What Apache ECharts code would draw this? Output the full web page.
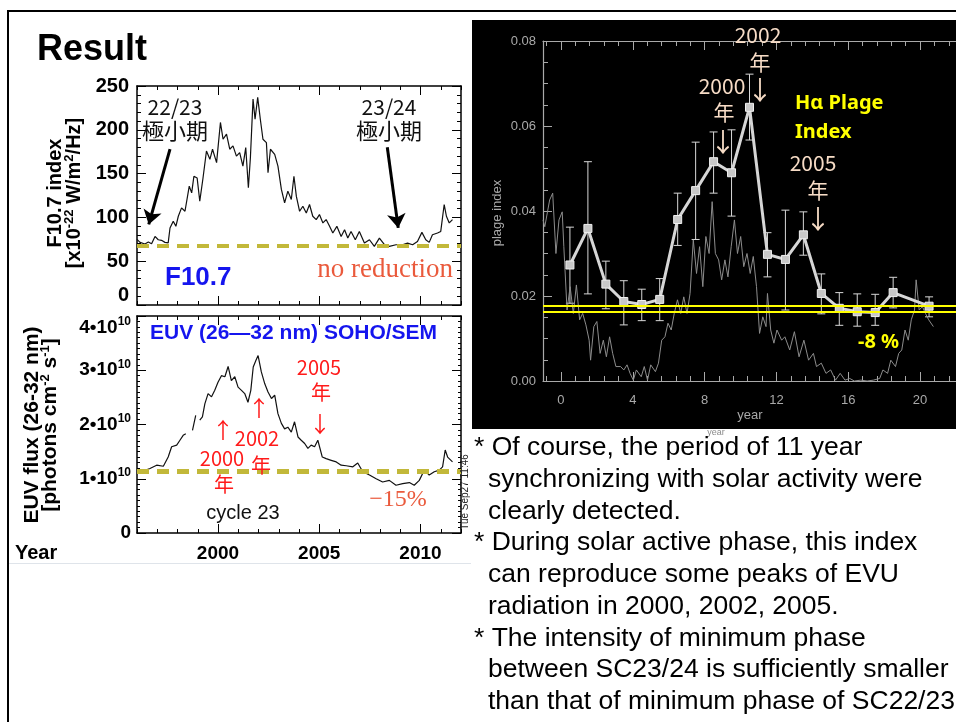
<!DOCTYPE html>
<html>
<head>
<meta charset="utf-8">
<script src="https://cdn.jsdelivr.net/npm/echarts@6/dist/echarts.min.js"></script>
<style>html,body{margin:0;padding:0;background:#fff}#main{width:956px;height:722px}</style>
</head>
<body>
<div id="main"></div>
<script>
(function () {
  'use strict';

  // F10.7 index (top-left panel)
  var f107Years = [1996.0, 1996.15, 1996.39, 1996.56, 1996.72, 1996.89, 1997.05, 1997.21, 1997.38, 1997.54, 1997.63, 1997.79, 1997.92,
    1998.04, 1998.2, 1998.37, 1998.58, 1998.7, 1998.81, 1998.97, 1999.1, 1999.26, 1999.43, 1999.6, 1999.73, 1999.93,
    2000.12, 2000.25, 2000.42, 2000.58, 2000.74, 2000.91, 2001.07, 2001.23, 2001.37, 2001.5, 2001.6, 2001.73, 2001.83, 2001.96,
    2002.09, 2002.22, 2002.39, 2002.47, 2002.59, 2002.8, 2002.96, 2003.13, 2003.29, 2003.45, 2003.62, 2003.75, 2003.87,
    2004.03, 2004.19, 2004.36, 2004.52, 2004.68, 2004.85, 2005.01, 2005.18, 2005.34, 2005.51, 2005.67, 2005.87,
    2006.08, 2006.25, 2006.41, 2006.57, 2006.78, 2006.98, 2007.23, 2007.48, 2007.72, 2007.97, 2008.22, 2008.46, 2008.79,
    2009.11, 2009.36, 2009.61, 2009.85, 2010.07, 2010.26, 2010.43, 2010.59, 2010.84, 2011.0, 2011.17, 2011.28, 2011.42, 2011.58];
  var f107Values = [75, 71.5, 69.6, 71.9, 70, 78.3, 74.5, 73.8, 71.5, 71, 87.9, 95.6, 89.8,
    101.3, 110.9, 107, 135.7, 128, 147, 145, 118.5, 145, 175.8, 166.3, 177.8, 162.5,
    208.4, 189.2, 195, 177.8, 181.6, 170, 174, 158.6, 179.7, 133.8, 168.2, 235, 212, 237,
    212, 189.2, 185.4, 151, 177.8, 172, 158.6, 131.9, 116.6, 130, 120.4, 147, 124,
    107, 112.7, 105, 114.7, 101.3, 97.5, 103.2, 93.7, 97.5, 89.8, 82.2, 89.8,
    78.3, 86, 76.4, 84, 74.5, 84, 70.7, 74.5, 66.9, 76.4, 68.8, 66.9, 68.8,
    68.8, 70.7, 68.8, 72.6, 82.9, 74.5, 71.5, 80.2, 82.2, 84, 114.7, 101.3, 93.7, 97.5];
  var f107Level = 68;

  // EUV 26-32 nm flux, units of 1e10 photons cm-2 s-1 (null = data gap)
  var euvYears = [1996.0, 1996.3, 1996.64, 1996.97, 1997.3, 1997.54, 1997.71, 1997.96, 1998.12, 1998.28, 1998.41, 1998.55,
    1998.74, 1998.9, 1999.0, 1999.1, 1999.23, 1999.35, 1999.51, 1999.68, 1999.84, 2000.0, 2000.17, 2000.34, 2000.5, 2000.66,
    2000.83, 2000.99, 2001.16, 2001.32, 2001.48, 2001.62, 2001.74, 2001.87, 2001.98, 2002.14, 2002.31, 2002.47, 2002.64,
    2002.8, 2002.96, 2003.13, 2003.29, 2003.45, 2003.62, 2003.78, 2003.95, 2004.11, 2004.28, 2004.44, 2004.6, 2004.77,
    2004.93, 2005.01, 2005.15, 2005.34, 2005.59, 2005.84, 2006.08, 2006.33, 2006.66, 2006.9, 2007.15, 2007.48, 2007.81,
    2008.13, 2008.46, 2008.79, 2009.12, 2009.45, 2009.69, 2009.94, 2010.19, 2010.43, 2010.68, 2010.93, 2011.09, 2011.22,
    2011.34, 2011.58];
  var euvFlux = [1.15, 1.14, 1.19, 1.25, 1.23, 1.40, 1.59, 1.62, 1.71, 1.80, 1.83, null,
    1.89, 2.17, null, 2.08, 2.14, 2.38, 2.57, 2.51, 2.63, 2.78, 2.90, 2.88, 3.07, 2.81,
    2.88, 2.69, 2.63, 2.57, 2.41, 2.63, 3.06, 3.18, 3.27, 2.97, 2.75, 2.60, 2.48,
    2.54, 2.20, 2.02, 1.92, 1.95, 1.86, 2.05, 1.77, 1.71, 1.65, 1.56, 1.62, 1.59,
    1.71, 1.74, 1.40, 1.37, 1.34, 1.31, 1.25, 1.24, 1.22, 1.29, 1.13, 1.07, 1.00,
    0.94, 0.97, 0.88, 0.91, 0.93, 0.88, 0.97, 1.16, 1.07, 1.13, 1.16, 1.22, 1.53,
    1.40, 1.31];
  var euvLevel = 1.13;

  // H-alpha plage index (right panel)
  var plageYears = [0.5, 1.5, 2.5, 3.5, 4.5, 5.5, 6.5, 7.5, 8.5, 9.5, 10.5, 11.5, 12.5, 13.5, 14.5, 15.5, 16.5, 17.5, 18.5, 20.5];
  var plageIndex = [0.0273, 0.0359, 0.0228, 0.0187, 0.0180, 0.0192, 0.0380, 0.0448, 0.0516, 0.0490, 0.0644, 0.0298, 0.0286, 0.0344, 0.0206, 0.0171, 0.0163, 0.0161, 0.0208, 0.0176];
  var plageLow = [0.0183, 0.0205, 0.0170, 0.0132, 0.0142, 0.0142, 0.0319, 0.0333, 0.0442, 0.0388, 0.0567, 0.0245, 0.0167, 0.0296, 0.0158, 0.0131, 0.0129, 0.0131, 0.0172, 0.0151];
  var plageHigh = [0.0362, 0.0516, 0.0282, 0.0236, 0.0216, 0.0241, 0.0442, 0.0562, 0.0586, 0.0591, 0.0722, 0.0349, 0.0402, 0.0398, 0.0252, 0.0208, 0.0205, 0.0204, 0.0244, 0.0198];
  var plageLevels = [0.0178, 0.0162];

  // thin grey reference curve behind the plage index
  var refYears = [-1.0, -0.9, -0.63, -0.46, -0.28, -0.11, 0.07, 0.16, 0.34, 0.51, 0.69, 0.86, 1.04, 1.21, 1.39, 1.57, 1.65, 1.83,
    2.0, 2.18, 2.36, 2.53, 2.71, 2.88, 3.06, 3.32, 3.5, 3.68, 3.85, 4.03, 4.2, 4.47, 4.64, 4.82, 5.0, 5.26, 5.43, 5.61, 5.79,
    5.96, 6.14, 6.31, 6.49, 6.67, 6.84, 7.02, 7.19, 7.37, 7.55, 7.72, 7.9, 8.07, 8.25, 8.42, 8.6, 8.78, 8.95, 9.13, 9.3,
    9.48, 9.66, 9.83, 10.01, 10.18, 10.36, 10.54, 10.71, 10.89, 11.06, 11.24, 11.42, 11.5, 11.68, 11.86, 12.03, 12.29,
    12.47, 12.74, 13.0, 13.26, 13.53, 13.79, 14.06, 14.23, 14.5, 14.76, 15.02, 15.29, 15.55, 15.82, 16.08, 16.34, 16.7,
    17.05, 17.4, 17.75, 17.93, 18.19, 18.37, 18.63, 18.81, 18.98, 19.16, 19.34, 19.51, 19.69, 19.78, 19.95, 20.13, 20.3,
    20.48, 20.74];
  var refValues = [0.0379, 0.0363, 0.0426, 0.0442, 0.0300, 0.0379, 0.0398, 0.0316, 0.0167, 0.0222, 0.0159, 0.0226, 0.0144,
    0.0159, 0.0132, 0.0096, 0.0049, 0.0128, 0.0140, 0.0065, 0.0096, 0.0057, 0.0104, 0.0065, 0.0034, 0.0034, 0.0026,
    0.0038, 0.0018, 0.0002, 0.0026, 0.0010, 0.0034, 0.0002, 0.0038, 0.0022, 0.0042, 0.0096, 0.0104, 0.0136, 0.0120,
    0.0159, 0.0191, 0.0159, 0.0198, 0.0159, 0.0206, 0.0332, 0.0253, 0.0316, 0.0222, 0.0340, 0.0300, 0.0422, 0.0300,
    0.0285, 0.0238, 0.0285, 0.0245, 0.0316, 0.0379, 0.0300, 0.0340, 0.0269, 0.0300, 0.0253, 0.0293, 0.0222, 0.0112,
    0.0151, 0.0128, 0.0206, 0.0120, 0.0089, 0.0120, 0.0096, 0.0104, 0.0073, 0.0116, 0.0057, 0.0096, 0.0049, 0.0065,
    0.0034, 0.0042, 0.0018, 0.0026, 0.0002, 0.0018, 0.0002, 0.0006, 0.0000, 0.0002, 0.0000, 0.0002, 0.0006, 0.0026,
    0.0018, 0.0049, 0.0034, 0.0065, 0.0073, 0.0120, 0.0096, 0.0144, 0.0167, 0.0238, 0.0167, 0.0175, 0.0159, 0.0144,
    0.0128];

  var yearLabels = [2000, 2005, 2010];
  var plageXLabels = [0, 4, 8, 12, 16, 20];

  var SANS = "'Liberation Sans', Arial, sans-serif";
  var CJK = "'Noto Sans CJK JP', sans-serif";
  var SERIF = "'Liberation Serif', serif";
  var NOTO = "'Noto Sans', sans-serif";

  function zip(a, b) {
    var out = [];
    for (var i = 0; i < a.length; i++) {
      out.push([a[i], b[i] === null ? '-' : b[i]]);
    }
    return out;
  }

  // minor ticks for the IDL style year axis: 4 year majors, 5 minors
  var plageMinorTicks = [];
  for (var t = -1; t <= 27; t++) { plageMinorTicks.push(+(t * 0.8).toFixed(1)); }

  var yearMinor = [];
  for (var yy = 1996; yy <= 2012; yy++) { yearMinor.push(yy); }

  function xAxisPair(base, position, color, lineW, majorVals, minorVals, majorLen, minorLen, label) {
    return [
      Object.assign({}, base, {
        position: position,
        axisLine: { show: true, onZero: false, lineStyle: { color: color, width: lineW } },
        axisTick: { show: true, inside: true, length: minorLen, customValues: minorVals, lineStyle: { color: color } },
        axisLabel: label || { show: false }
      }),
      Object.assign({}, base, {
        position: position,
        axisLine: { show: false, onZero: false },
        axisTick: { show: true, inside: true, length: majorLen, customValues: majorVals, lineStyle: { color: color } },
        axisLabel: { show: false }
      })
    ];
  }

  var leftBase = { type: 'value', min: 1996, max: 2012, splitLine: { show: false } };
  var yearLabelStyle = {
    customValues: yearLabels, margin: 11,
    fontFamily: SANS, fontWeight: 'bold', fontSize: 19, color: '#000',
    formatter: function (v) { return String(v); }
  };
  var plageBase = { type: 'value', gridIndex: 2, min: -1, max: 22, splitLine: { show: false } };
  var GREY = '#a9a9a9';
  var plageLabelStyle = {
    customValues: plageXLabels, margin: 13, color: GREY, fontFamily: SANS, fontSize: 13,
    formatter: function (v) { return String(v); }
  };

  var xAxes = [].concat(
    xAxisPair(Object.assign({ gridIndex: 0 }, leftBase), 'bottom', '#000', 1.5, yearLabels, yearMinor, 9, 4),
    xAxisPair(Object.assign({ gridIndex: 0 }, leftBase), 'top', '#000', 1.5, yearLabels, yearMinor, 9, 4),
    xAxisPair(Object.assign({ gridIndex: 1 }, leftBase), 'bottom', '#000', 1.5, yearLabels, yearMinor, 9, 4, yearLabelStyle),
    xAxisPair(Object.assign({ gridIndex: 1 }, leftBase), 'top', '#000', 1.5, yearLabels, yearMinor, 9, 4),
    xAxisPair(plageBase, 'bottom', GREY, 1.2, plageXLabels, plageMinorTicks, 9, 5, plageLabelStyle),
    xAxisPair(plageBase, 'top', GREY, 1.2, plageXLabels, plageMinorTicks, 9, 5)
  );
  // indices: 0-3 F10.7, 4-7 EUV, 8-11 plage

  function yAxisDef(gi, pos, min, max, interval, color, lineW, minorSplit, minorLen, label) {
    return {
      type: 'value', gridIndex: gi, position: pos, min: min, max: max, interval: interval,
      axisLine: { show: true, onZero: false, lineStyle: { color: color, width: lineW } },
      axisTick: { show: true, inside: true, length: 9, lineStyle: { color: color } },
      minorTick: { show: true, splitNumber: minorSplit, length: minorLen, lineStyle: { color: color } },
      splitLine: { show: false },
      axisLabel: label || { show: false }
    };
  }

  var yAxes = [
    yAxisDef(0, 'left', 0, 250, 50, '#000', 1.5, 5, 4, {
      margin: 8, fontFamily: SANS, fontWeight: 'bold', fontSize: 20, color: '#000',
      verticalAlignMinLabel: 'bottom', verticalAlignMaxLabel: 'middle'
    }),
    yAxisDef(0, 'right', 0, 250, 50, '#000', 1.5, 5, 4),
    yAxisDef(1, 'left', 0, 4, 1, '#000', 1.5, 10, 3, {
      margin: 6, verticalAlignMaxLabel: 'top',
      formatter: function (v) { return v === 0 ? '{n|0}' : '{n|' + v + '•10}{s|10}'; },
      rich: {
        n: { fontFamily: SANS, fontWeight: 'bold', fontSize: 19, color: '#000' },
        s: { fontFamily: SANS, fontWeight: 'bold', fontSize: 12, color: '#000', padding: [0, 0, 12, 0] }
      }
    }),
    yAxisDef(1, 'right', 0, 4, 1, '#000', 1.5, 10, 3),
    yAxisDef(2, 'left', 0, 0.08, 0.02, GREY, 1.2, 4, 5, {
      margin: 7, color: GREY, fontFamily: SANS, fontSize: 13,
      formatter: function (v) { return v.toFixed(2); }
    })
  ];

  function renderErrorBar(params, api) {
    var x = api.value(0);
    var lo = api.coord([x, api.value(1)]);
    var hi = api.coord([x, api.value(2)]);
    var half = 4;
    var st = { stroke: '#d8d8d8', lineWidth: 1 };
    return {
      type: 'group',
      children: [
        { type: 'line', shape: { x1: lo[0], y1: lo[1], x2: hi[0], y2: hi[1] }, style: st },
        { type: 'line', shape: { x1: lo[0] - half, y1: lo[1], x2: lo[0] + half, y2: lo[1] }, style: st },
        { type: 'line', shape: { x1: hi[0] - half, y1: hi[1], x2: hi[0] + half, y2: hi[1] }, style: st }
      ]
    };
  }

  var errorData = [];
  for (var i = 0; i < plageYears.length; i++) {
    errorData.push([plageYears[i], plageLow[i], plageHigh[i]]);
  }

  function txt(x, y, text, font, color, align, extra) {
    var el = {
      type: 'text', x: x, y: y, z: 100,
      style: {
        text: text, font: font, fill: color,
        textAlign: align || 'center', textVerticalAlign: 'middle',
        align: align || 'center', verticalAlign: 'middle'
      }
    };
    if (extra) {
      if (extra.rotation) { el.rotation = extra.rotation; }
      if (extra.rich) { el.style.rich = extra.rich; }
    }
    return el;
  }

  var supRich = {
    s: { fontFamily: SANS, fontWeight: 'bold', fontSize: 13, fill: '#000', color: '#000', padding: [0, 0, 10, 0] }
  };

  var red = '#ff1a1a';
  var peach = '#f7dcc6';
  var yellow = '#ffff00';
  var boldTitle = 'bold 20px ' + SANS;

  var graphics = [
    // slide frame
    { type: 'rect', z: 0, shape: { x: 7, y: 10, width: 960, height: 2 }, style: { fill: '#000' } },
    { type: 'rect', z: 0, shape: { x: 7, y: 10, width: 2, height: 720 }, style: { fill: '#000' } },
    { type: 'rect', z: 0, shape: { x: 9, y: 563, width: 462, height: 1 }, style: { fill: '#dfe4ea' } },
    // black panel behind the plage chart
    { type: 'rect', z: -10, shape: { x: 472, y: 20, width: 484, height: 409 }, style: { fill: '#000' } },

    txt(37, 50, 'Result', 'bold 36px ' + SANS, '#000', 'left'),

    // F10.7 panel
    txt(55, 193, 'F10.7 index', boldTitle, '#000', 'center', { rotation: Math.PI / 2 }),
    txt(74, 193, '[x10{s|-22} W/m{s|2}/Hz]', boldTitle, '#000', 'center', { rotation: Math.PI / 2, rich: supRich }),
    txt(175, 107, '22/23', '21px ' + CJK, '#111'),
    txt(175, 131, '極小期', '22px ' + CJK, '#111'),
    txt(389, 107, '23/24', '21px ' + CJK, '#111'),
    txt(389, 131, '極小期', '22px ' + CJK, '#111'),
    txt(165, 278, 'F10.7', 'bold 26px ' + SANS, '#1515ee', 'left'),
    txt(453, 270, 'no reduction', '27px ' + SERIF, '#ea5a3c', 'right'),

    // EUV panel
    txt(32, 425, 'EUV flux (26-32 nm)', 'bold 21px ' + SANS, '#000', 'center', { rotation: Math.PI / 2 }),
    txt(50, 425, '[photons cm{s|-2} s{s|-1}]', 'bold 21px ' + SANS, '#000', 'center', { rotation: Math.PI / 2, rich: supRich }),
    txt(150, 333, 'EUV (26—32 nm) SOHO/SEM', 'bold 21px ' + SANS, '#1515ee', 'left'),
    txt(319, 367, '2005', '20px ' + CJK, red),
    txt(321, 392, '年', '20px ' + CJK, red),
    txt(320, 424, '↓', '22px ' + CJK, red),
    txt(259, 408, '↑', '22px ' + CJK, red),
    txt(257, 438, '2002', '20px ' + CJK, red),
    txt(261, 465, '年', '20px ' + CJK, red),
    txt(223, 430, '↑', '22px ' + CJK, red),
    txt(222, 458, '2000', '20px ' + CJK, red),
    txt(224, 484, '年', '20px ' + CJK, red),
    txt(243, 513, 'cycle 23', '20px ' + SANS, '#111'),
    txt(398, 500, '−15%', '24px ' + SERIF, '#ea5a3c'),
    txt(465, 492, 'Tue Sep27 11:46', '10px ' + SANS, '#222', 'center', { rotation: Math.PI / 2 }),
    txt(15, 553, 'Year', 'bold 20px ' + SANS, '#000', 'left'),

    // plage panel
    txt(497, 213, 'plage index', '13px ' + SANS, GREY, 'center', { rotation: Math.PI / 2 }),
    txt(750, 415, 'year', '13px ' + SANS, GREY),
    txt(716, 433, 'year', '9px ' + SANS, '#8a8a8a'),
    txt(758, 35, '2002', '21px ' + CJK, peach),
    txt(760, 62, '年', '21px ' + CJK, peach),
    txt(760, 90, '↓', '26px ' + CJK, peach),
    txt(722, 86, '2000', '21px ' + CJK, peach),
    txt(724, 112, '年', '21px ' + CJK, peach),
    txt(723, 142, '↓', '26px ' + CJK, peach),
    txt(813, 163, '2005', '21px ' + CJK, peach),
    txt(818, 190, '年', '21px ' + CJK, peach),
    txt(818, 219, '↓', '26px ' + CJK, peach),
    txt(795, 103, 'Hα Plage', 'bold 20px ' + NOTO, yellow, 'left'),
    txt(795, 132, 'Index', 'bold 20px ' + NOTO, yellow, 'left'),
    txt(858, 342, '-8 %', 'bold 20px ' + NOTO, yellow, 'left')
  ];

  // bullet text
  var bulletLines = [
    ['* Of course, the period of 11 year', 474],
    ['synchronizing with solar activity were', 488],
    ['clearly detected.', 488],
    ['* During solar active phase, this index', 474],
    ['can reproduce some peaks of EVU', 488],
    ['radiation in 2000, 2002, 2005.', 488],
    ['* The intensity of minimum phase', 474],
    ['between SC23/24 is sufficiently smaller', 488],
    ['than that of minimum phase of SC22/23', 488]
  ];
  for (var b = 0; b < bulletLines.length; b++) {
    graphics.push(txt(bulletLines[b][1], 448 + b * 31.7, bulletLines[b][0], '26.5px ' + SANS, '#000', 'left'));
  }

  var chart = echarts.init(document.getElementById('main'));
  var option = {
    backgroundColor: '#fff',
    animation: false,
    grid: [
      { left: 137, top: 86, width: 324, height: 219 },
      { left: 137, top: 316, width: 324, height: 217 },
      { left: 543, top: 41, width: 436, height: 340 }
    ],
    xAxis: xAxes,
    yAxis: yAxes,
    series: [
      {
        type: 'line', xAxisIndex: 0, yAxisIndex: 0, data: zip(f107Years, f107Values),
        showSymbol: false, symbol: 'none', lineStyle: { color: '#111', width: 1.2 },
        markLine: {
          silent: true, symbol: 'none', precision: 4, label: { show: false },
          lineStyle: { color: '#c2b83a', width: 4, type: [12, 8] },
          data: [{ yAxis: f107Level }]
        }
      },
      {
        // minimum arrows
        type: 'line', xAxisIndex: 0, yAxisIndex: 0, data: [],
        markLine: {
          silent: true, symbol: ['none', 'arrow'], symbolSize: 14, label: { show: false },
          lineStyle: { color: '#000', width: 3, type: 'solid' },
          data: [
            [{ coord: [1997.63, 178] }, { coord: [1996.58, 92] }],
            [{ coord: [2008.36, 180] }, { coord: [2008.9, 88] }]
          ]
        }
      },
      {
        type: 'line', xAxisIndex: 4, yAxisIndex: 2, data: zip(euvYears, euvFlux),
        connectNulls: false, showSymbol: false, symbol: 'none', lineStyle: { color: '#111', width: 1.2 },
        markLine: {
          silent: true, symbol: 'none', precision: 4, label: { show: false },
          lineStyle: { color: '#c2b83a', width: 5, type: [12, 8] },
          data: [{ yAxis: euvLevel }]
        }
      },
      {
        type: 'line', xAxisIndex: 8, yAxisIndex: 4, data: zip(refYears, refValues),
        showSymbol: false, symbol: 'none', lineStyle: { color: '#8c8c8c', width: 1 }
      },
      {
        type: 'custom', xAxisIndex: 8, yAxisIndex: 4, data: errorData,
        renderItem: renderErrorBar, encode: { x: 0, y: [1, 2] }, z: 3
      },
      {
        type: 'line', xAxisIndex: 8, yAxisIndex: 4, data: zip(plageYears, plageIndex),
        symbol: 'rect', symbolSize: 8, z: 4,
        lineStyle: { color: '#d6d6d6', width: 3 },
        itemStyle: { color: '#c8c8c8', borderColor: '#f0f0f0', borderWidth: 1 },
        markLine: {
          silent: true, symbol: 'none', precision: 5, label: { show: false }, z: 6,
          lineStyle: { color: yellow, width: 2, type: 'solid' },
          data: [{ yAxis: plageLevels[0] }, { yAxis: plageLevels[1] }]
        }
      }
    ],
    graphic: graphics
  };
  chart.setOption(option);
})();
</script>
</body>
</html>
